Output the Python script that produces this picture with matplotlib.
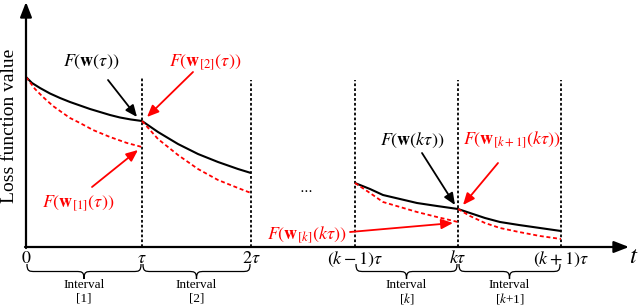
import matplotlib
matplotlib.use("Agg")
import matplotlib.pyplot as plt
from matplotlib.path import Path
from matplotlib.patches import PathPatch

plt.rcParams['mathtext.fontset'] = 'stix'
plt.rcParams['font.family'] = ['Liberation Serif', 'DejaVu Serif']

# ---------------- data (t in axis units, loss in axis units) ----------------
boundaries = [0, 116, 225, 329, 432, 535]
tick_labels = [r"$0$", r"$\tau$", r"$2\tau$", r"$(k-1)\tau$", r"$k\tau$", r"$(k+1)\tau$"]
vline_tops = [170, 167, 167, 167, 167]
interval_names = ["[1]", "[2]", r"[$k$]", r"[$k$+1]"]
interval_spans = [(0, 116), (116, 225), (329, 432), (432, 535)]

black1_t = [0, 6, 14, 24, 34, 44, 54, 64, 74, 84, 94, 105, 116]
black1_v = [170, 164, 159, 153.5, 149, 145, 141.5, 138, 135, 132, 129.5, 127.5, 126]
red1_t = [0, 9, 17, 27, 34, 44, 54, 67, 84, 101, 116]
red1_v = [170, 158, 150, 141, 136, 129, 124, 117, 110, 104, 100]

black2_t = [116, 132, 152, 172, 192, 212, 225]
black2_v = [126, 115, 103, 93, 85, 78, 74]
red2_t = [116, 132, 152, 172, 192, 212, 225]
red2_v = [126, 108, 92, 78, 67, 59, 54]

blackk_t = [329, 344, 357, 374, 391, 411, 432]
blackk_v = [64, 58, 52, 48, 44, 41, 38]
redk_t = [329, 344, 357, 374, 391, 411, 432]
redk_v = [64, 54, 45, 40, 35, 30, 25]

blackk1_t = [432, 444, 459, 474, 493, 514, 535]
blackk1_v = [38, 34, 29, 25, 22, 19, 16]
redk1_t = [432, 444, 459, 474, 493, 514, 535]
redk1_v = [38, 31, 24, 19, 15, 11, 8]

RED = '#ff0000'

fig = plt.figure(figsize=(6.4, 3.06), dpi=100)
ax = fig.add_axes([0, 0, 1, 1])
ax.set_xlim(-26, 614)
ax.set_ylim(-59, 247)
ax.axis('off')

# axes arrows
ax.annotate("", xy=(0, 245), xytext=(0, -1),
            arrowprops=dict(arrowstyle='-|>,head_length=0.9,head_width=0.35', color='black',
                            lw=1.6, shrinkA=0, shrinkB=0))
ax.annotate("", xy=(603, 0), xytext=(-1, 0),
            arrowprops=dict(arrowstyle='-|>,head_length=0.9,head_width=0.35', color='black',
                            lw=1.6, shrinkA=0, shrinkB=0))

# vertical dotted lines
for b, top in zip(boundaries[1:], vline_tops):
    ax.plot([b, b], [0, top], color='black', lw=1.3, linestyle=(0, (1.5, 1.2)))

# curves
for t, v in [(black1_t, black1_v), (black2_t, black2_v), (blackk_t, blackk_v), (blackk1_t, blackk1_v)]:
    ax.plot(t, v, color='black', lw=1.5, solid_capstyle='butt')
for t, v in [(red1_t, red1_v), (red2_t, red2_v), (redk_t, redk_v), (redk1_t, redk1_v)]:
    ax.plot(t, v, color=RED, lw=1.3, linestyle=(0, (2.2, 1.5)))

# tick labels
for b, lab in zip(boundaries, tick_labels):
    ax.text(b, -3, lab, ha='center', va='top', fontsize=13)
ax.text(608, -10, r"$t$", ha='center', va='center', fontsize=18)

# braces
def brace(x1, x2, ytop, depth):
    xm = (x1 + x2) / 2.0
    d = depth / 2.0
    w = 8
    verts = [(x1, ytop),
             (x1, ytop - d), (x1 + w * 0.3, ytop - d), (x1 + w, ytop - d),
             (xm - w, ytop - d),
             (xm - w * 0.3, ytop - d), (xm, ytop - d), (xm, ytop - depth),
             (xm, ytop - d), (xm + w * 0.3, ytop - d), (xm + w, ytop - d),
             (x2 - w, ytop - d),
             (x2 - w * 0.3, ytop - d), (x2, ytop - d), (x2, ytop)]
    codes = [Path.MOVETO,
             Path.CURVE4, Path.CURVE4, Path.CURVE4,
             Path.LINETO,
             Path.CURVE4, Path.CURVE4, Path.CURVE4,
             Path.CURVE4, Path.CURVE4, Path.CURVE4,
             Path.LINETO,
             Path.CURVE4, Path.CURVE4, Path.CURVE4]
    return PathPatch(Path(verts, codes), fill=False, lw=0.9, color='black')

for (a, b), name in zip(interval_spans, interval_names):
    ax.add_patch(brace(a + 1, b - 1, -17, 15))
    xm = (a + b) / 2.0
    ax.text(xm, -38, "Interval", ha='center', va='center', fontsize=9.5)
    ax.text(xm, -51.5, name, ha='center', va='center', fontsize=9.5)

# y label
ax.text(-16, 121, "Loss function value", rotation=90, ha='center', va='center', fontsize=14)

# annotations
def ann(xy, xytext, color):
    ax.annotate("", xy=xy, xytext=xytext,
                arrowprops=dict(arrowstyle='-|>,head_length=0.7,head_width=0.3', color=color,
                                lw=1.3, shrinkA=0, shrinkB=0))

ax.text(65, 185, r"$F\left(\mathbf{w}\left(\tau\right)\right)$", ha='center', va='center', fontsize=13, color='black')
ann((111, 130), (82, 167), 'black')
ax.text(179, 185, r"$F\left(\mathbf{w}_{[2]}\left(\tau\right)\right)$", ha='center', va='center', fontsize=13, color=RED)
ann((121, 130), (167, 175), RED)
ax.text(52, 44, r"$F\left(\mathbf{w}_{[1]}\left(\tau\right)\right)$", ha='center', va='center', fontsize=13, color=RED)
ann((112, 97), (66, 60), RED)
ax.text(386, 107, r"$F\left(\mathbf{w}\left(k\tau\right)\right)$", ha='center', va='center', fontsize=13, color='black')
ann((429, 42), (396, 94), 'black')
ax.text(486, 107, r"$F\left(\mathbf{w}_{[k+1]}\left(k\tau\right)\right)$", ha='center', va='center', fontsize=13, color=RED)
ann((437, 42), (472, 84), RED)
ax.text(281, 12, r"$F\left(\mathbf{w}_{[k]}\left(k\tau\right)\right)$", ha='center', va='center', fontsize=13, color=RED)
ann((427, 24), (324, 15), RED)
ax.text(280, 57, r"$\cdots$", ha='center', va='center', fontsize=10, color='black')

fig.savefig("out.png", dpi=100)
